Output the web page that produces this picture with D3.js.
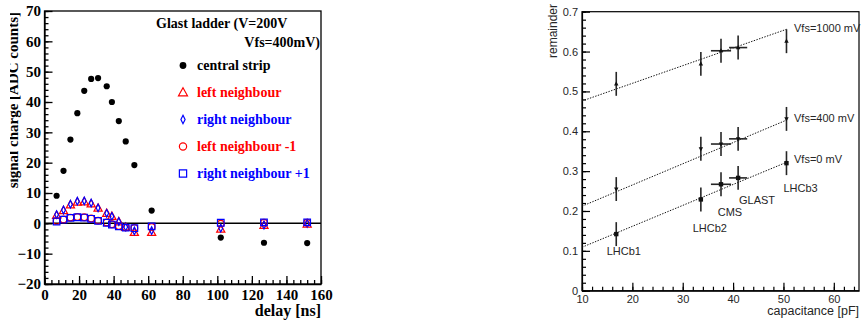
<!DOCTYPE html>
<html>
<head>
<meta charset="utf-8">
<script src="https://cdn.jsdelivr.net/npm/d3@7"></script>
<style>
  body { margin: 0; background: #fff; }
  svg { display: block; }
</style>
</head>
<body>
<svg id="chart" width="861" height="322"></svg>
<script>
// ---- left panel data: signal vs delay ----
const delay = [7, 11, 15, 19, 23, 27, 31, 36, 39, 43, 47, 52, 62, 102, 127, 152];
const central = [9.1, 17.3, 27.6, 36.3, 43.7, 47.6, 47.9, 45.2, 40.0, 33.7, 27.0, 19.2, 4.2, -4.7, -6.4, -6.5];
const leftN = [2.6, 4.2, 6.1, 7.0, 7.1, 6.4, 5.0, 3.3, 2.3, 0.5, -1.3, -3.0, -3.0, -1.9, -0.7, -0.3];
const rightN = [2.9, 4.4, 6.3, 7.3, 7.4, 6.7, 5.1, 3.3, 2.3, 0.6, -1.2, -2.5, -2.4, -1.6, -0.6, 0.0];
const leftN1 = [0.8, 1.3, 1.9, 2.1, 2.0, 1.6, 0.9, 0.3, -0.3, -0.9, -1.3, -1.5, -1.2, -0.1, 0.2, 0.2];
const rightN1 = [0.6, 1.2, 1.8, 2.0, 1.9, 1.5, 0.8, 0.2, -0.4, -1.0, -1.4, -1.6, -1.0, 0.2, 0.3, 0.3];
const legendLabels = ['central strip', 'left neighbour', 'right neighbour', 'left neighbour -1', 'right neighbour +1'];

// ---- right panel data: remainder vs capacitance ----
const detectors = ['LHCb1', 'LHCb2', 'CMS', 'GLAST', 'LHCb3'];
const capacitance = [16.8, 33.6, 37.6, 41.0, 50.6];
const capErr = [0, 0, 2.0, 1.8, 0];
const vfsLabels = ['Vfs=1000 mV', 'Vfs=400 mV', 'Vfs=0 mV'];
const rem1000 = [0.519, 0.569, 0.602, 0.610, 0.626];
const rem400 = [0.255, 0.356, 0.368, 0.381, 0.431];
const rem0 = [0.142, 0.229, 0.267, 0.283, 0.320];
const remErr = [0.03, 0.03, 0.03, 0.03, 0.03];
const fitIntercept = [0.476, 0.212, 0.109]; // value at 10 pF
const fitSlope = [0.00443, 0.00532, 0.00525];

const svg = d3.select('#chart');

// ================= left panel =================
const L = {left: 44.5, right: 321, top: 11, bottom: 284};
const xL = d3.scaleLinear().domain([0, 160]).range([L.left, L.right]);
const yL = d3.scaleLinear().domain([-20, 70]).range([L.bottom, L.top]);
const serif = 'Liberation Serif, Times New Roman, serif';

const left = svg.append('g');

// minor ticks
left.append('g')
  .attr('transform', 'translate(0,' + L.bottom + ')')
  .call(d3.axisBottom(xL).tickValues(d3.range(0, 161, 4)).tickSize(-4).tickSizeOuter(0).tickFormat(''))
  .call(g => g.select('.domain').remove());
left.append('g')
  .attr('transform', 'translate(' + L.left + ',0)')
  .call(d3.axisLeft(yL).tickValues(d3.range(-20, 71, 2)).tickSize(-4).tickSizeOuter(0).tickFormat(''))
  .call(g => g.select('.domain').remove());

// major ticks
const xAxisL = left.append('g')
  .attr('transform', 'translate(0,' + L.bottom + ')')
  .call(d3.axisBottom(xL).tickValues(d3.range(0, 161, 20)).tickSize(-8).tickSizeOuter(0).tickPadding(5));
const yAxisL = left.append('g')
  .attr('transform', 'translate(' + L.left + ',0)')
  .call(d3.axisLeft(yL).tickValues(d3.range(-20, 71, 10)).tickSize(-8).tickSizeOuter(0).tickPadding(3.5));
[xAxisL, yAxisL].forEach(a => {
  a.selectAll('text').style('font-family', serif).style('font-weight', 'bold').style('font-size', '15px').attr('fill', '#000');
});
left.selectAll('.domain, .tick line').attr('stroke', '#000').attr('stroke-width', 1.3);

// frame
left.append('rect')
  .attr('x', L.left).attr('y', L.top)
  .attr('width', L.right - L.left).attr('height', L.bottom - L.top)
  .attr('fill', 'none').attr('stroke', '#000').attr('stroke-width', 1.3);

// zero line
left.append('line')
  .attr('x1', xL(0)).attr('x2', xL(160))
  .attr('y1', yL(0)).attr('y2', yL(0))
  .attr('stroke', '#000').attr('stroke-width', 1.5);

// marker shapes
const triPath = (s) => 'M0,' + (-s) + 'L' + (s * 0.95) + ',' + (s * 0.7) + 'L' + (-s * 0.95) + ',' + (s * 0.7) + 'Z';
const diaPath = (s) => 'M0,' + (-s) + 'L' + (s * 0.5) + ',0L0,' + s + 'L' + (-s * 0.5) + ',0Z';
const sqPath = (s) => 'M' + (-s) + ',' + (-s) + 'H' + s + 'V' + s + 'H' + (-s) + 'Z';

const series = [
  {vals: central, kind: 'dot', color: '#000'},
  {vals: leftN, kind: 'tri', color: '#ff0000'},
  {vals: rightN, kind: 'dia', color: '#0000ff'},
  {vals: leftN1, kind: 'circ', color: '#ff0000'},
  {vals: rightN1, kind: 'sq', color: '#0000ff'}
];

function drawMarker(g, kind, color, x, y, k) {
  k = k || 1;
  if (kind === 'dot') {
    g.append('circle').attr('cx', x).attr('cy', y).attr('r', 3.1 * k).attr('fill', color);
  } else if (kind === 'circ') {
    g.append('circle').attr('cx', x).attr('cy', y).attr('r', 3.3 * k)
      .attr('fill', 'none').attr('stroke', color).attr('stroke-width', 1.2);
  } else {
    const d = kind === 'tri' ? triPath(4.3 * k) : kind === 'dia' ? diaPath(3.8 * k) : sqPath(3.3 * k);
    g.append('path').attr('d', d).attr('transform', 'translate(' + x + ',' + y + ')')
      .attr('fill', 'none').attr('stroke', color).attr('stroke-width', 1.2);
  }
}

const marks = left.append('g');
series.forEach(s => {
  s.vals.forEach((v, i) => drawMarker(marks, s.kind, s.color, xL(delay[i]), yL(v)));
});

// legend
const legend = left.append('g').style('font-family', serif).style('font-weight', 'bold').style('font-size', '14px');
legend.append('text').attr('x', 156).attr('y', 28).text('Glast ladder (V=200V');
legend.append('text').attr('x', 320).attr('y', 47).attr('text-anchor', 'end').text('Vfs=400mV)');
series.forEach((s, i) => {
  const y = 70 + i * 27;
  drawMarker(legend, s.kind, s.color, 183, y - 4.5, 1.1);
  legend.append('text').attr('x', 197).attr('y', y).attr('fill', s.color).text(legendLabels[i]);
});

// axis titles
left.append('text')
  .attr('x', L.right).attr('y', 316)
  .attr('text-anchor', 'end')
  .style('font-family', serif).style('font-weight', 'bold').style('font-size', '16px')
  .text('delay [ns]');

svg.append('defs').append('clipPath').attr('id', 'ylabclip')
  .append('rect').attr('x', 10).attr('y', 0).attr('width', 30).attr('height', 322);
left.append('g').attr('clip-path', 'url(#ylabclip)')
  .append('text')
  .attr('transform', 'translate(17.5,12) rotate(-90)')
  .attr('text-anchor', 'end')
  .style('font-family', serif).style('font-weight', 'bold').style('font-size', '15px')
  .text('signal charge [ADC counts]');

// ================= right panel =================
const R = {left: 582, right: 859, top: 11.7, bottom: 290.7};
const xR = d3.scaleLinear().domain([10, 65]).range([R.left, R.right]);
const yR = d3.scaleLinear().domain([0, 0.7]).range([R.bottom, R.top]);
const sans = 'Liberation Sans, Arial, Helvetica, sans-serif';
const grey = '#262626';

const right = svg.append('g');

right.append('g')
  .attr('transform', 'translate(0,' + R.bottom + ')')
  .call(d3.axisBottom(xR).tickValues(d3.range(10, 65, 2)).tickSize(-4).tickSizeOuter(0).tickFormat(''))
  .call(g => g.select('.domain').remove());
right.append('g')
  .attr('transform', 'translate(' + R.left + ',0)')
  .call(d3.axisLeft(yR).tickValues(d3.range(0, 0.701, 0.02)).tickSize(-4).tickSizeOuter(0).tickFormat(''))
  .call(g => g.select('.domain').remove());

const xAxisR = right.append('g')
  .attr('transform', 'translate(0,' + R.bottom + ')')
  .call(d3.axisBottom(xR).tickValues(d3.range(10, 61, 10)).tickSize(-8).tickSizeOuter(0).tickPadding(4.5));
const yAxisR = right.append('g')
  .attr('transform', 'translate(' + R.left + ',0)')
  .call(d3.axisLeft(yR).tickValues(d3.range(0, 0.701, 0.1)).tickSize(-8).tickSizeOuter(0).tickPadding(4)
    .tickFormat(d => d < 1e-9 ? '0' : d3.format('.1f')(d)));
[xAxisR, yAxisR].forEach(a => {
  a.selectAll('text').style('font-family', sans).style('font-size', '11px').attr('fill', grey);
});
right.selectAll('.domain, .tick line').attr('stroke', '#000').attr('stroke-width', 1.2);

right.append('rect')
  .attr('x', R.left).attr('y', R.top)
  .attr('width', R.right - R.left).attr('height', R.bottom - R.top)
  .attr('fill', 'none').attr('stroke', '#000').attr('stroke-width', 1.2);

// fit lines
const capMin = 10, capMax = d3.max(capacitance);
fitIntercept.forEach((b, i) => {
  right.append('line')
    .attr('x1', xR(capMin)).attr('y1', yR(b))
    .attr('x2', xR(capMax)).attr('y2', yR(b + fitSlope[i] * (capMax - capMin)))
    .attr('stroke', '#111').attr('stroke-width', 1).attr('stroke-dasharray', '1.4,1.4');
});

// points with error bars
const remSeries = [
  {vals: rem1000, kind: 'up'},
  {vals: rem400, kind: 'down'},
  {vals: rem0, kind: 'sq'}
];
const pts = right.append('g').attr('stroke', grey).attr('stroke-width', 1.6);
remSeries.forEach(s => {
  s.vals.forEach((v, i) => {
    const cx = xR(capacitance[i]), cy = yR(v);
    pts.append('line').attr('x1', cx).attr('x2', cx).attr('y1', yR(v - remErr[i])).attr('y2', yR(v + remErr[i]));
    if (capErr[i] > 0) {
      pts.append('line').attr('y1', cy).attr('y2', cy)
        .attr('x1', xR(capacitance[i] - capErr[i])).attr('x2', xR(capacitance[i] + capErr[i]));
    }
    let d;
    if (s.kind === 'sq') d = sqPath(2.2);
    else if (s.kind === 'up') d = 'M0,-2.6L2.2,1.6L-2.2,1.6Z';
    else d = 'M0,2.6L2.2,-1.6L-2.2,-1.6Z';
    pts.append('path').attr('d', d).attr('transform', 'translate(' + cx + ',' + cy + ')')
      .attr('fill', '#111').attr('stroke', 'none');
  });
});

// annotations
const ann = right.append('g').style('font-family', sans).style('font-size', '11px').attr('fill', grey);
const vfsY = [31.7, 122.3, 163.3];
vfsLabels.forEach((t, i) => ann.append('text').attr('x', 794).attr('y', vfsY[i]).text(t));
const detPos = [[606.7, 255], [692.7, 231.7], [717.7, 215.7], [739, 203.5], [783.5, 192]];
detectors.forEach((t, i) => ann.append('text').attr('x', detPos[i][0]).attr('y', detPos[i][1]).text(t));

right.append('text')
  .attr('x', 859).attr('y', 315)
  .attr('text-anchor', 'end')
  .style('font-family', sans).style('font-size', '12.5px').attr('fill', grey)
  .text('capacitance [pF]');
right.append('text')
  .attr('transform', 'translate(556.5,4) rotate(-90)')
  .attr('text-anchor', 'end')
  .style('font-family', sans).style('font-size', '12px').attr('fill', grey)
  .text('remainder');
</script>
</body>
</html>
